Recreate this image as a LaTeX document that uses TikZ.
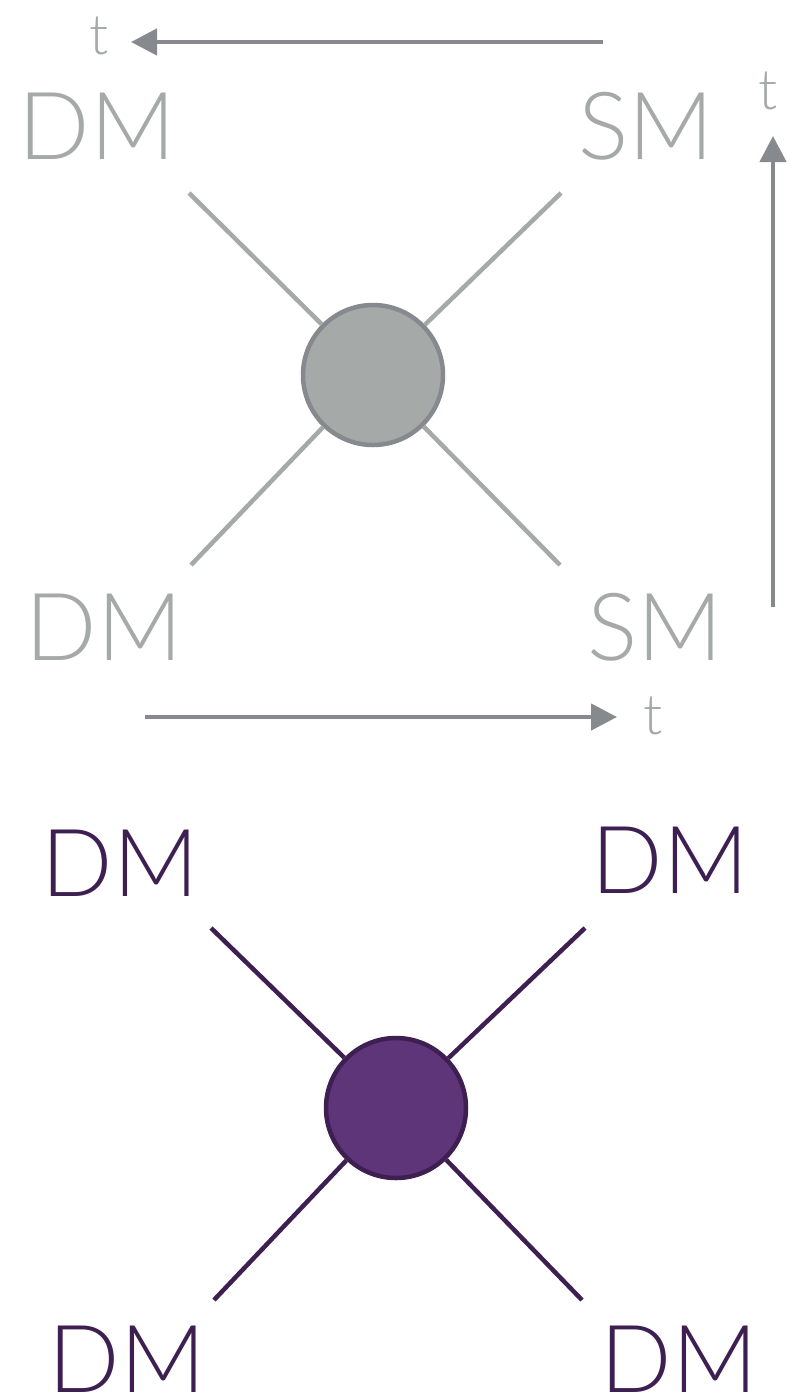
\documentclass[tikz,border=0pt]{standalone}
\usepackage{fontspec}
\setmainfont{Lato Light}
\usetikzlibrary{arrows.meta}
\definecolor{gtext}{HTML}{A5AAA8}
\definecolor{gfill}{HTML}{A5A9A8}
\definecolor{gdark}{HTML}{868A8E}
\definecolor{pfill}{HTML}{5E3578}
\definecolor{pdark}{HTML}{3E1F52}
\begin{document}
\begin{tikzpicture}[x=1pt,y=-1pt,
  lbl/.style={font=\fontsize{94}{94}\selectfont, inner sep=0pt, anchor=center},
  glbl/.style={lbl, text=gtext},
  plbl/.style={lbl, text=pdark},
  tlbl/.style={font=\fontsize{56}{56}\selectfont, inner sep=0pt, text=gtext},
  gleg/.style={draw=gtext, line width=4.5pt},
  pleg/.style={draw=pdark, line width=4.5pt},
  tarrow/.style={draw=gdark, line width=4.5pt, -{Triangle[length=26pt,width=26pt]}},
  gvert/.style={circle, minimum size=140pt, inner sep=0pt, fill=gfill, draw=gdark, line width=4.5pt},
  pvert/.style={circle, minimum size=140pt, inner sep=0pt, fill=pfill, draw=pdark, line width=4.5pt}]
\useasboundingbox (0,0) rectangle (790,1398);
% top diagram
\node[gvert] (c1) at (373,375) {};
\coordinate (a1) at (189,193);
\coordinate (a2) at (561,193);
\coordinate (a3) at (191,565);
\coordinate (a4) at (560,565);
\foreach \p in {a1,a2,a3,a4} \draw[gleg] (\p) -- (c1);
\node[glbl] (dm1) at (97,126) {DM};
\node[glbl] (sm1) at (646,126) {SM};
\node[glbl] (dm2) at (104,627) {DM};
\node[glbl] (sm2) at (655,627) {SM};
\node[tlbl] (t1) at (99,36) {t};
\node[tlbl] (t2) at (768,91) {t};
\node[tlbl] (t3) at (653,716) {t};
\coordinate (h1s) at (603,42);
\coordinate (h1e) at (131,42);
\coordinate (v1s) at (773,607);
\coordinate (v1e) at (773,136);
\coordinate (h2s) at (145,717);
\coordinate (h2e) at (617,717);
\draw[tarrow] (h1s) -- (h1e);
\draw[tarrow] (v1s) -- (v1e);
\draw[tarrow] (h2s) -- (h2e);
% bottom diagram
\node[pvert] (c2) at (396,1108) {};
\coordinate (b1) at (211,928);
\coordinate (b2) at (585,928);
\coordinate (b3) at (214,1300);
\coordinate (b4) at (582,1300);
\foreach \p in {b1,b2,b3,b4} \draw[pleg] (\p) -- (c2);
\node[plbl] (dm3) at (120,863) {DM};
\node[plbl] (dm4) at (670,860) {DM};
\node[plbl] (dm5) at (127,1359) {DM};
\node[plbl] (dm6) at (679,1359) {DM};
\end{tikzpicture}
\end{document}
